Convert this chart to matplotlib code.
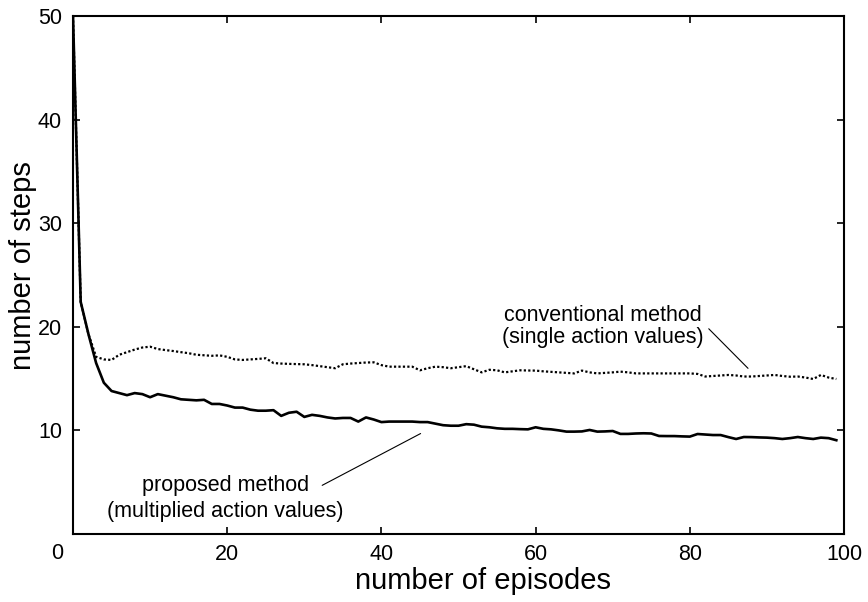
import matplotlib.pyplot as plt

plt.rcParams['font.family'] = ['Liberation Sans', 'DejaVu Sans']

# episodes 0..99
episodes = list(range(100))

# proposed method (multiplied action values) - solid line
proposed = [50, 22.4, 19.3, 16.5, 14.6, 13.8, 13.6, 13.4, 13.6, 13.5,
            13.2, 13.5, 13.35, 13.2, 13.0, 12.95, 12.9, 12.95, 12.55, 12.55,
            12.4, 12.2, 12.2, 12.0, 11.9, 11.9, 11.95, 11.4, 11.7, 11.8,
            11.3, 11.5, 11.4, 11.25, 11.15, 11.2, 11.2, 10.85, 11.25, 11.05,
            10.8, 10.85, 10.85, 10.85, 10.85, 10.8, 10.8, 10.65, 10.5, 10.45,
            10.45, 10.6, 10.55, 10.36, 10.3, 10.2, 10.15, 10.15, 10.12, 10.1,
            10.3, 10.15, 10.1, 10.0, 9.88, 9.88, 9.9, 10.04, 9.88, 9.9,
            9.94, 9.66, 9.66, 9.7, 9.72, 9.7, 9.46, 9.45, 9.45, 9.42,
            9.4, 9.65, 9.6, 9.55, 9.55, 9.35, 9.17, 9.36, 9.35, 9.32,
            9.3, 9.25, 9.17, 9.25, 9.36, 9.25, 9.17, 9.3, 9.25, 9.05]

# conventional method (single action values) - dotted line
conventional = [50, 22.4, 19.3, 17.1, 16.85, 16.8, 17.3, 17.55, 17.8, 18.0,
                18.08, 17.85, 17.75, 17.66, 17.55, 17.45, 17.3, 17.25, 17.2, 17.24,
                17.1, 16.85, 16.8, 16.85, 16.9, 16.96, 16.5, 16.45, 16.42, 16.4,
                16.38, 16.3, 16.2, 16.1, 16.0, 16.38, 16.45, 16.5, 16.55, 16.57,
                16.3, 16.15, 16.15, 16.15, 16.15, 15.8, 16.0, 16.15, 16.1, 16.0,
                16.1, 16.2, 15.9, 15.6, 15.85, 15.8, 15.6, 15.7, 15.8, 15.78,
                15.77, 15.7, 15.65, 15.6, 15.55, 15.5, 15.77, 15.6, 15.5, 15.55,
                15.6, 15.67, 15.6, 15.5, 15.5, 15.5, 15.5, 15.5, 15.5, 15.5,
                15.5, 15.45, 15.2, 15.25, 15.3, 15.35, 15.3, 15.2, 15.2, 15.25,
                15.3, 15.35, 15.25, 15.18, 15.2, 15.1, 14.96, 15.35, 15.1, 14.96]

xticks = [0, 20, 40, 60, 80, 100]
yticks = [0, 10, 20, 30, 40, 50]

fig = plt.figure(figsize=(8.68, 6.02), dpi=100)
ax = fig.add_axes([0.0841, 0.113, 0.8883, 0.8604])

ax.plot(episodes, conventional, color='black', lw=1.6, linestyle=(0, (1, 1)))
ax.plot(episodes, proposed, color='black', lw=1.9)

ax.set_xlim(0, 100)
ax.set_ylim(0, 50)
ax.set_xticks(xticks)
ax.set_yticks(yticks)
ax.set_xticklabels([''] + [str(t) for t in xticks[1:]])
ax.set_yticklabels([''] + [str(t) for t in yticks[1:]])
ax.tick_params(direction='in', top=True, right=True, length=5, width=1.2,
               labelsize=15.5, pad=7)
ax.tick_params(axis='y', pad=8)
for s in ax.spines.values():
    s.set_linewidth(1.5)

# shared corner "0" label
ax.annotate('0', xy=(0, 0), xytext=(-16, -9), textcoords='offset pixels',
            ha='center', va='top', fontsize=15.5)

ax.set_xlabel('number of episodes', fontsize=21)
ax.set_ylabel('number of steps', fontsize=21)
ax.xaxis.set_label_coords(0.532, -0.064)
ax.yaxis.set_label_coords(-0.047, 0.519)

# labels with leader lines
ax.text(68.7, 20.0, 'conventional method\n(single action values)',
        ha='center', va='center', fontsize=15.5, linespacing=1.05)
ax.annotate('', xy=(87.8, 15.8), xytext=(82.2, 20.0),
            arrowprops=dict(arrowstyle='-', lw=0.8, color='black'))

ax.text(19.8, 3.43, 'proposed method\n(multiplied action values)',
        ha='center', va='center', fontsize=15.5, linespacing=1.3)
ax.annotate('', xy=(45.4, 9.82), xytext=(32.0, 4.57),
            arrowprops=dict(arrowstyle='-', lw=0.8, color='black'))

fig.savefig('out.png', dpi=100)
